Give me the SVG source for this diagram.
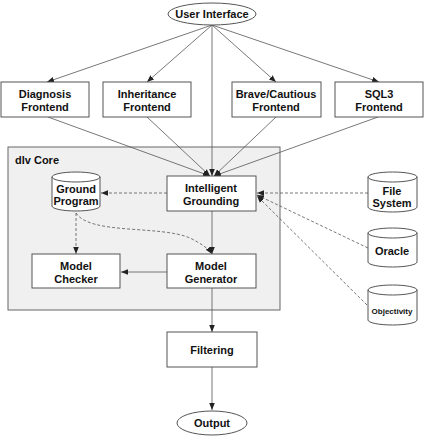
<svg xmlns="http://www.w3.org/2000/svg" width="425" height="436" viewBox="0 0 425 436">
<defs>
<marker id="ah" viewBox="0 0 10 10" refX="10" refY="5" markerWidth="7" markerHeight="7" markerUnits="userSpaceOnUse" orient="auto">
<path d="M0,1 L10,5 L0,9 Z" fill="#222"/>
</marker>
<style>
.box{fill:#fff;stroke:#555;stroke-width:1}
.cyl{fill:#fff;stroke:#555;stroke-width:1}
.t{font-family:"Liberation Sans",Arial,sans-serif;font-weight:bold;font-size:11px;fill:#111;text-anchor:middle}
.s{font-size:8px}
.ln{fill:none;stroke:#555;stroke-width:0.8;marker-end:url(#ah)}
.d{stroke-dasharray:3,2}
</style>
</defs>
<rect width="425" height="436" fill="#fff"/>
<g id="dlv-core">
<rect x="8" y="147" width="272" height="163" fill="#f0f0f0" stroke="#666" stroke-width="1"/>
<text class="t" x="15" y="164" style="text-anchor:start">dlv Core</text>
</g>
<g id="connectors">
<line class="ln" x1="212" y1="25" x2="47" y2="82"/>
<line class="ln" x1="212" y1="25" x2="147" y2="82"/>
<line class="ln" x1="212" y1="25" x2="276" y2="82"/>
<line class="ln" x1="212" y1="25" x2="379" y2="82"/>
<line class="ln" x1="212" y1="25" x2="212" y2="176"/>
<line class="ln" x1="48" y1="117" x2="210" y2="176"/>
<line class="ln" x1="147" y1="117" x2="210" y2="176"/>
<line class="ln" x1="276" y1="117" x2="214" y2="176"/>
<line class="ln" x1="378" y1="117" x2="214" y2="176"/>
<line class="ln d" x1="167" y1="193" x2="101" y2="193"/>
<line class="ln" x1="212" y1="211" x2="212" y2="254"/>
<line class="ln d" x1="76" y1="213" x2="76" y2="254"/>
<path class="ln d" d="M76,213 C90,235 160,225 190,238 C200,243 208,248 212,254"/>
<line class="ln" x1="167" y1="272" x2="121" y2="272"/>
<line class="ln" x1="212" y1="288" x2="212" y2="332"/>
<line class="ln" x1="212" y1="367" x2="212" y2="410"/>
<line class="ln d" x1="368" y1="193" x2="257" y2="193"/>
<line class="ln d" x1="368" y1="248" x2="257" y2="195"/>
<line class="ln d" x1="367" y1="305" x2="257" y2="196"/>
</g>
<g id="user-interface">
<ellipse cx="212" cy="14" rx="44" ry="11" fill="#fff" stroke="#555"/>
<text class="t" x="212" y="18">User Interface</text>
</g>
<g id="diagnosis-frontend">
<rect class="box" x="1" y="82" width="88" height="35"/>
<text class="t" x="45" y="98">Diagnosis</text>
<text class="t" x="45" y="111">Frontend</text>
</g>
<g id="inheritance-frontend">
<rect class="box" x="103" y="82" width="88" height="35"/>
<text class="t" x="147" y="98">Inheritance</text>
<text class="t" x="147" y="111">Frontend</text>
</g>
<g id="brave-frontend">
<rect class="box" x="232" y="82" width="89" height="35"/>
<text class="t" x="276" y="98">Brave/Cautious</text>
<text class="t" x="276" y="111">Frontend</text>
</g>
<g id="sql3-frontend">
<rect class="box" x="335" y="82" width="88" height="35"/>
<text class="t" x="379" y="98">SQL3</text>
<text class="t" x="379" y="111">Frontend</text>
</g>
<g id="intelligent-grounding">
<rect class="box" x="167" y="176" width="89" height="35"/>
<text class="t" x="211" y="192">Intelligent</text>
<text class="t" x="211" y="205">Grounding</text>
</g>
<g id="ground-program">
<path class="cyl" d="M52,177 A24,5 0 0 1 100,177 L100,206 A24,5 0 0 1 52,206 Z"/>
<path d="M52,177 A24,5 0 0 0 100,177" fill="none" stroke="#555"/>
<text class="t" x="76" y="193">Ground</text>
<text class="t" x="76" y="205">Program</text>
</g>
<g id="model-checker">
<rect class="box" x="32" y="254" width="88" height="34"/>
<text class="t" x="76" y="270">Model</text>
<text class="t" x="76" y="283">Checker</text>
</g>
<g id="model-generator">
<rect class="box" x="167" y="254" width="89" height="34"/>
<text class="t" x="211" y="270">Model</text>
<text class="t" x="211" y="283">Generator</text>
</g>
<g id="file-system">
<path class="cyl" d="M368,177 A24.5,5 0 0 1 417,177 L417,207 A24.5,5 0 0 1 368,207 Z"/>
<path d="M368,177 A24.5,5 0 0 0 417,177" fill="none" stroke="#555"/>
<text class="t" x="392" y="195">File</text>
<text class="t" x="392" y="207">System</text>
</g>
<g id="oracle">
<path class="cyl" d="M368,233 A24.5,5 0 0 1 417,233 L417,262 A24.5,5 0 0 1 368,262 Z"/>
<path d="M368,233 A24.5,5 0 0 0 417,233" fill="none" stroke="#555"/>
<text class="t" x="392" y="255">Oracle</text>
</g>
<g id="objectivity">
<path class="cyl" d="M368,290 A24.5,5 0 0 1 417,290 L417,320 A24.5,5 0 0 1 368,320 Z"/>
<path d="M368,290 A24.5,5 0 0 0 417,290" fill="none" stroke="#555"/>
<text class="t s" x="392" y="314">Objectivity</text>
</g>
<g id="filtering">
<rect class="box" x="167" y="332" width="90" height="35"/>
<text class="t" x="212" y="354">Filtering</text>
</g>
<g id="output">
<ellipse cx="212" cy="423" rx="35" ry="12" fill="#fff" stroke="#555"/>
<text class="t" x="212" y="427">Output</text>
</g>
</svg>
